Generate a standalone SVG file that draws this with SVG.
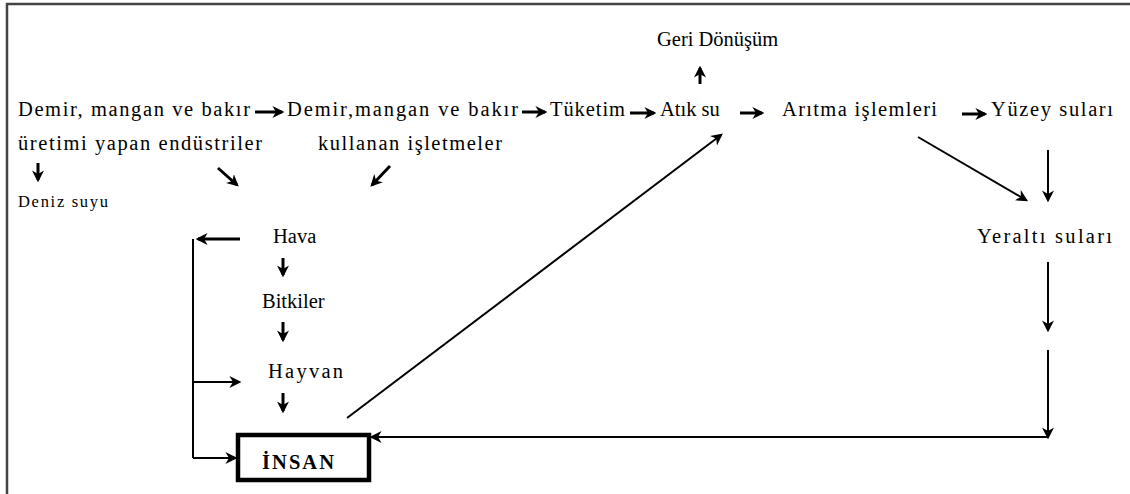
<svg xmlns="http://www.w3.org/2000/svg" width="1130" height="494" viewBox="0 0 1130 494">
<style>
.th{stroke:#000;stroke-width:3;fill:none}
.tn{stroke:#000;stroke-width:2;fill:none}
</style>
<defs>
<marker id="ah" viewBox="0 0 10 10" refX="8" refY="5" markerUnits="userSpaceOnUse" markerWidth="12" markerHeight="12" orient="auto">
<path d="M0,0 L10,5 L0,10 L3,5 z" fill="#000"/>
</marker>
</defs>
<rect width="1130" height="494" fill="#fff"/>
<path d="M7,494 V4 H1130" stroke="#444" stroke-width="2.5" fill="none"/>

<g font-family="Liberation Serif, Times New Roman, serif" font-size="20.5" fill="#000">
<g id="n-geri"><text x="657" y="46">Geri Dönüşüm</text></g>
<g id="n-demir1">
<text x="18" y="116" textLength="232" lengthAdjust="spacing">Demir, mangan ve bakır</text>
<text x="18" y="150" textLength="244" lengthAdjust="spacing">üretimi yapan endüstriler</text>
</g>
<g id="n-demir2">
<text x="287" y="116" textLength="231" lengthAdjust="spacing">Demir,mangan ve bakır</text>
<text x="318" y="150" textLength="184" lengthAdjust="spacing">kullanan işletmeler</text>
</g>
<g id="n-tuketim"><text x="550" y="116" textLength="75" lengthAdjust="spacing">Tüketim</text></g>
<g id="n-atiksu"><text x="660" y="116">Atık su</text></g>
<g id="n-aritma"><text x="782" y="116" textLength="155" lengthAdjust="spacing">Arıtma işlemleri</text></g>
<g id="n-yuzey"><text x="991" y="116" textLength="122" lengthAdjust="spacing">Yüzey suları</text></g>
<g id="n-deniz"><text font-size="16.5" x="18" y="207" textLength="90" lengthAdjust="spacing">Deniz suyu</text></g>
<g id="n-hava"><text x="273" y="243">Hava</text></g>
<g id="n-bitkiler"><text x="262" y="308">Bitkiler</text></g>
<g id="n-hayvan"><text x="268" y="378" textLength="75" lengthAdjust="spacing">Hayvan</text></g>
<g id="n-yeralti"><text x="977" y="243" textLength="135" lengthAdjust="spacing">Yeraltı suları</text></g>
<g id="n-insan">
<rect x="238" y="435" width="131" height="45" fill="#fff" stroke="#000" stroke-width="4.5"/>
<text font-weight="bold" x="262" y="469" textLength="72" lengthAdjust="spacing">İNSAN</text>
</g>
</g>

<g id="connectors">
<line class="th" x1="255" y1="112" x2="282" y2="112" marker-end="url(#ah)"/>
<line class="th" x1="522" y1="112" x2="545" y2="112" marker-end="url(#ah)"/>
<line class="th" x1="630" y1="113" x2="654" y2="113" marker-end="url(#ah)"/>
<line class="th" x1="740" y1="113" x2="762" y2="113" marker-end="url(#ah)"/>
<line class="th" x1="962" y1="114" x2="985" y2="114" marker-end="url(#ah)"/>
<line class="th" x1="700" y1="84" x2="700" y2="68" marker-end="url(#ah)"/>
<line class="th" x1="38" y1="163" x2="38" y2="180" marker-end="url(#ah)"/>
<line class="th" x1="218" y1="168" x2="237" y2="185" marker-end="url(#ah)"/>
<line class="th" x1="390" y1="166" x2="372" y2="185" marker-end="url(#ah)"/>
<line class="th" x1="240" y1="239" x2="198" y2="239" marker-end="url(#ah)"/>
<line class="th" x1="283" y1="258" x2="283" y2="275" marker-end="url(#ah)"/>
<line class="th" x1="283" y1="322" x2="283" y2="340" marker-end="url(#ah)"/>
<line class="th" x1="283" y1="393" x2="283" y2="411" marker-end="url(#ah)"/>
<line class="tn" x1="193" y1="239" x2="193" y2="458"/>
<line class="tn" x1="193" y1="382" x2="239" y2="382" marker-end="url(#ah)"/>
<line class="tn" x1="193" y1="458" x2="235" y2="458" marker-end="url(#ah)"/>
<line class="tn" x1="347" y1="418" x2="721" y2="135" marker-end="url(#ah)"/>
<line class="tn" x1="918" y1="137" x2="1026" y2="200" marker-end="url(#ah)"/>
<line class="tn" x1="1048" y1="150" x2="1048" y2="200" marker-end="url(#ah)"/>
<line class="tn" x1="1048" y1="262" x2="1048" y2="330" marker-end="url(#ah)"/>
<line class="tn" x1="1048" y1="350" x2="1048" y2="437" marker-end="url(#ah)"/>
<line class="tn" x1="1048" y1="437" x2="372" y2="437" marker-end="url(#ah)"/>
</g>
</svg>
